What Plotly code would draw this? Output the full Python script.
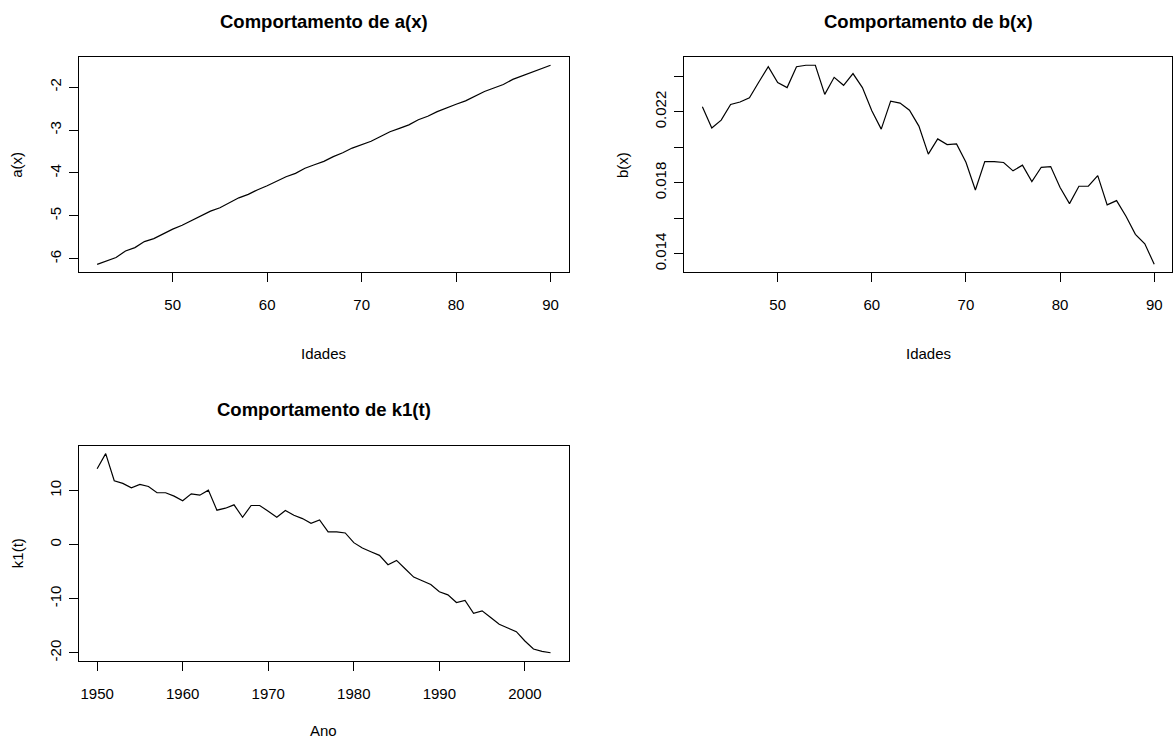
import plotly.graph_objects as go

# ---- data ----
idades = list(range(42, 91))
a_x = [-6.13, -6.05, -5.97, -5.82, -5.74, -5.60, -5.53, -5.42, -5.31, -5.22,
       -5.11, -5.00, -4.89, -4.81, -4.69, -4.58, -4.50, -4.39, -4.30, -4.19,
       -4.09, -4.01, -3.89, -3.81, -3.73, -3.62, -3.53, -3.42, -3.34, -3.26,
       -3.15, -3.04, -2.96, -2.88, -2.76, -2.68, -2.57, -2.48, -2.40, -2.32,
       -2.21, -2.10, -2.02, -1.94, -1.82, -1.74, -1.66, -1.58, -1.49]
b_x = [0.02228, 0.02108, 0.02153, 0.02241, 0.02255, 0.02279, 0.02368, 0.02454,
       0.02364, 0.02336, 0.02454, 0.02462, 0.02462, 0.02298, 0.02394, 0.02349,
       0.02415, 0.02336, 0.02206, 0.02102, 0.02260, 0.02249, 0.02209, 0.02119,
       0.01961, 0.02047, 0.02015, 0.02019, 0.01915, 0.01759, 0.01919, 0.01919,
       0.01914, 0.01867, 0.01899, 0.01806, 0.01887, 0.01891, 0.01773, 0.01682,
       0.01780, 0.01780, 0.01840, 0.01675, 0.01699, 0.01611, 0.01509, 0.01456,
       0.01340]
anos = list(range(1950, 2004))
k1_t = [14.04, 16.82, 11.81, 11.32, 10.51, 11.13, 10.76, 9.59, 9.59, 8.97,
        8.10, 9.40, 9.15, 10.08, 6.37, 6.74, 7.36, 5.07, 7.24, 7.24,
        6.18, 5.07, 6.31, 5.44, 4.82, 3.96, 4.58, 2.35, 2.35, 2.16,
        0.37, -0.62, -1.30, -1.98, -3.71, -2.91, -4.45, -6.00, -6.68, -7.36,
        -8.72, -9.28, -10.70, -10.33, -12.68, -12.24, -13.48, -14.72, -15.40, -16.08,
        -17.81, -19.30, -19.73, -19.98]

titles = ["Comportamento de a(x)", "Comportamento de b(x)", "Comportamento de k1(t)"]
xlabels = ["Idades", "Idades", "Ano"]
ylabels = ["a(x)", "b(x)", "k1(t)"]
x_ticks_idade = [50, 60, 70, 80, 90]
x_ticks_ano = [1950, 1960, 1970, 1980, 1990, 2000]
a_yticks = [-6, -5, -4, -3, -2]
b_yticks = [0.014, 0.016, 0.018, 0.020, 0.022, 0.024]
b_yticktext = ["0.014", "", "0.018", "", "0.022", ""]
k1_yticks = [-20, -10, 0, 10]

W, H = 1173, 738
FONT = "Liberation Sans, Arial, Helvetica, sans-serif"


def rrange(v):
    lo, hi = min(v), max(v)
    p = (hi - lo) * 0.04
    return [lo - p, hi + p]


# panel boxes in pixels: (left, right, top, bottom)
boxes = [(79, 568.7, 57.3, 272.3), (684.3, 1172.3, 57.3, 272.3), (79, 568.7, 445.7, 660.7)]
xlabel_y = [353, 353, 730]

fig = go.Figure()
series = [(idades, a_x), (idades, b_x), (anos, k1_t)]
for i, (xs, ys) in enumerate(series):
    sfx = "" if i == 0 else str(i + 1)
    fig.add_trace(go.Scatter(x=xs, y=ys, mode="lines",
                             line=dict(color="black", width=1.2),
                             xaxis="x" + sfx, yaxis="y" + sfx, showlegend=False,
                             hoverinfo="skip"))

axis_common = dict(showgrid=False, zeroline=False, showline=True, mirror=True,
                   linecolor="black", linewidth=1.2, ticks="outside", ticklen=9,
                   tickwidth=1, tickcolor="black",
                   tickfont=dict(family=FONT, size=15, color="black"))

yt = [(a_yticks, [str(v) for v in a_yticks]), (b_yticks, b_yticktext),
      (k1_yticks, [str(v) for v in k1_yticks])]
xt = [x_ticks_idade, x_ticks_idade, x_ticks_ano]

layout = dict(width=W, height=H, margin=dict(l=0, r=0, t=0, b=0),
              plot_bgcolor="white", paper_bgcolor="white", showlegend=False)
annotations = []
for i, (xs, ys) in enumerate(series):
    sfx = "" if i == 0 else str(i + 1)
    l, r, t, b = boxes[i]
    layout["xaxis" + sfx] = dict(axis_common, domain=[l / W, r / W], range=rrange(xs),
                                 tickmode="array", tickvals=xt[i],
                                 anchor="y" + sfx, ticklabelstandoff=10)
    layout["yaxis" + sfx] = dict(axis_common, domain=[1 - b / H, 1 - t / H], range=rrange(ys),
                                 tickmode="array", tickvals=yt[i][0], ticktext=yt[i][1],
                                 tickangle=-90, anchor="x" + sfx, ticklabelstandoff=2)
    cx = (l + r) / 2
    annotations.append(dict(text="<b>" + titles[i] + "</b>", x=cx / W, y=1 - (t - 36) / H,
                            xref="paper", yref="paper", showarrow=False,
                            xanchor="center", yanchor="middle",
                            font=dict(family=FONT, size=18.5, color="black")))
    annotations.append(dict(text=xlabels[i], x=cx / W, y=1 - xlabel_y[i] / H,
                            xref="paper", yref="paper", showarrow=False,
                            xanchor="center", yanchor="middle",
                            font=dict(family=FONT, size=15, color="black")))
    annotations.append(dict(text=ylabels[i], x=(l - 62) / W, y=1 - ((t + b) / 2) / H,
                            xref="paper", yref="paper", showarrow=False, textangle=-90,
                            xanchor="center", yanchor="middle",
                            font=dict(family=FONT, size=15, color="black")))
layout["annotations"] = annotations
fig.update_layout(**layout)
fig.write_html("out.html")
